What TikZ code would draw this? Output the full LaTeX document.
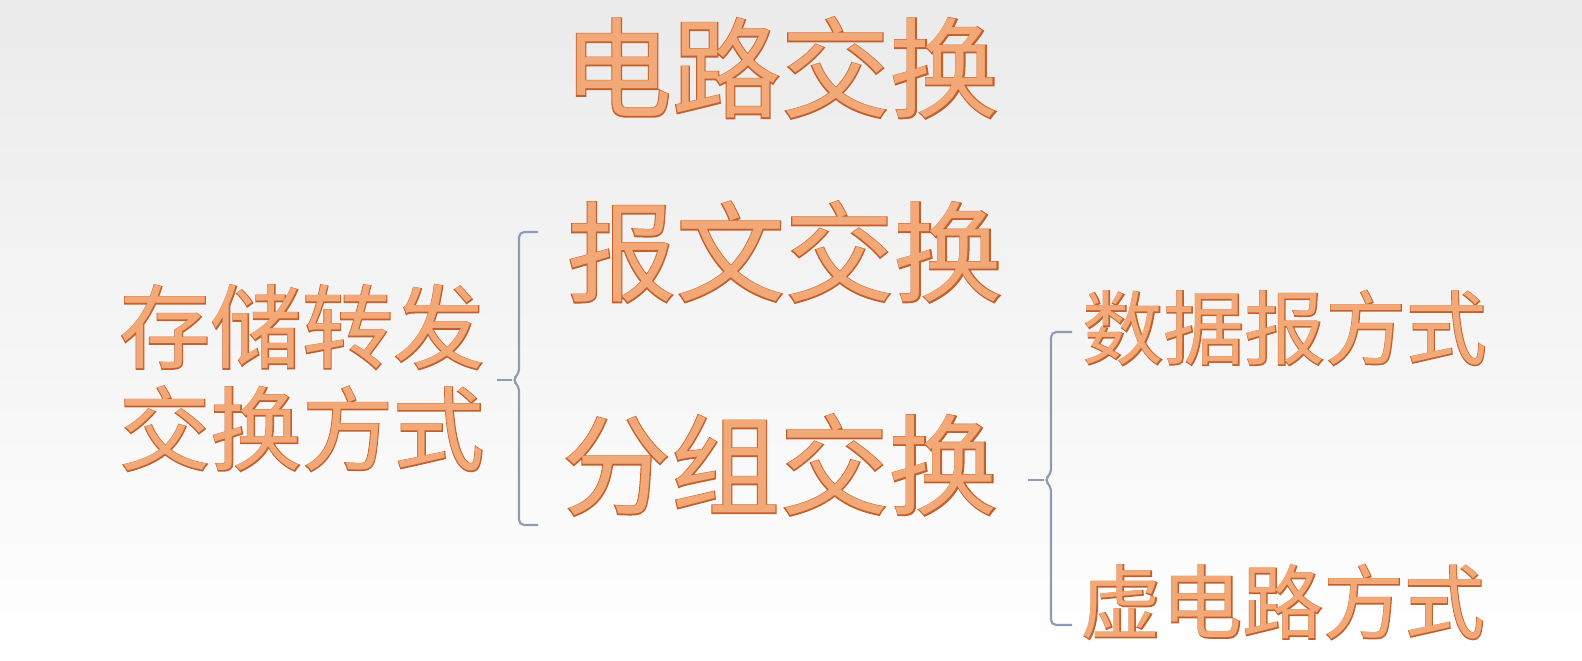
\documentclass[tikz,border=0pt]{standalone}
\usepackage{fontspec}
\newfontfamily\cjk{Noto Sans CJK SC}
\usepackage{xcolor}
\definecolor{txtfill}{HTML}{F3A878}
\definecolor{txtedge}{HTML}{C4602A}
\definecolor{bracecol}{HTML}{8C9CB4}
\definecolor{bgtop}{HTML}{EBEBEB}

\tikzset{
  word/.style={inner sep=0pt, text=txtfill},
  edge/.style={text=txtedge, execute at begin node={\addfontfeature{FakeBold=2}}},
  bigword/.style={word, font=\cjk\fontsize{62}{68}\selectfont},
  midword/.style={word, align=center, font=\cjk\fontsize{52}{58}\selectfont},
  smallword/.style={word, font=\cjk\fontsize{46}{50}\selectfont},
  brace/.style={draw=bracecol, line width=1.2pt, rounded corners=3pt}
}

% outlined word: style, name, position, text
\newcommand{\wordnode}[4]{%
  \node[#1, edge] at #3 {#4};
  \node[#1] (#2) at #3 {#4};}

\begin{document}
\begin{tikzpicture}[x=0.02cm, y=-0.02cm]
% background
\shade[top color=bgtop, bottom color=white] (0,0) rectangle (1582,660);
\useasboundingbox (0,0) rectangle (1582,660);

% words
\wordnode{bigword}{circ}{(781,68)}{电路交换}
\wordnode{bigword}{msg}{(785,252)}{报文交换}
\wordnode{bigword}{pkt}{(780,465)}{分组交换}
\wordnode{midword}{sf}{(302,378)}{存储转发\\交换方式}
\wordnode{smallword}{dg}{(1285,328)}{数据报方式}
\wordnode{smallword}{vc}{(1283,602)}{虚电路方式}

% braces
\coordinate (b1) at (519,380);
\draw[brace] (b1) ++(19,-148) -- ++(-19,0) -- ++(0,142) -- ++(-7,6) -- ++(7,6) -- ++(0,139) -- ++(19,0);
\draw[brace] (b1) ++(-22,0) -- ++(15,0);

\coordinate (b2) at (1051,480);
\draw[brace] (b2) ++(21,-148) -- ++(-21,0) -- ++(0,142) -- ++(-7,6) -- ++(7,6) -- ++(0,139) -- ++(21,0);
\draw[brace] (b2) ++(-23,0) -- ++(16,0);
\end{tikzpicture}
\end{document}
